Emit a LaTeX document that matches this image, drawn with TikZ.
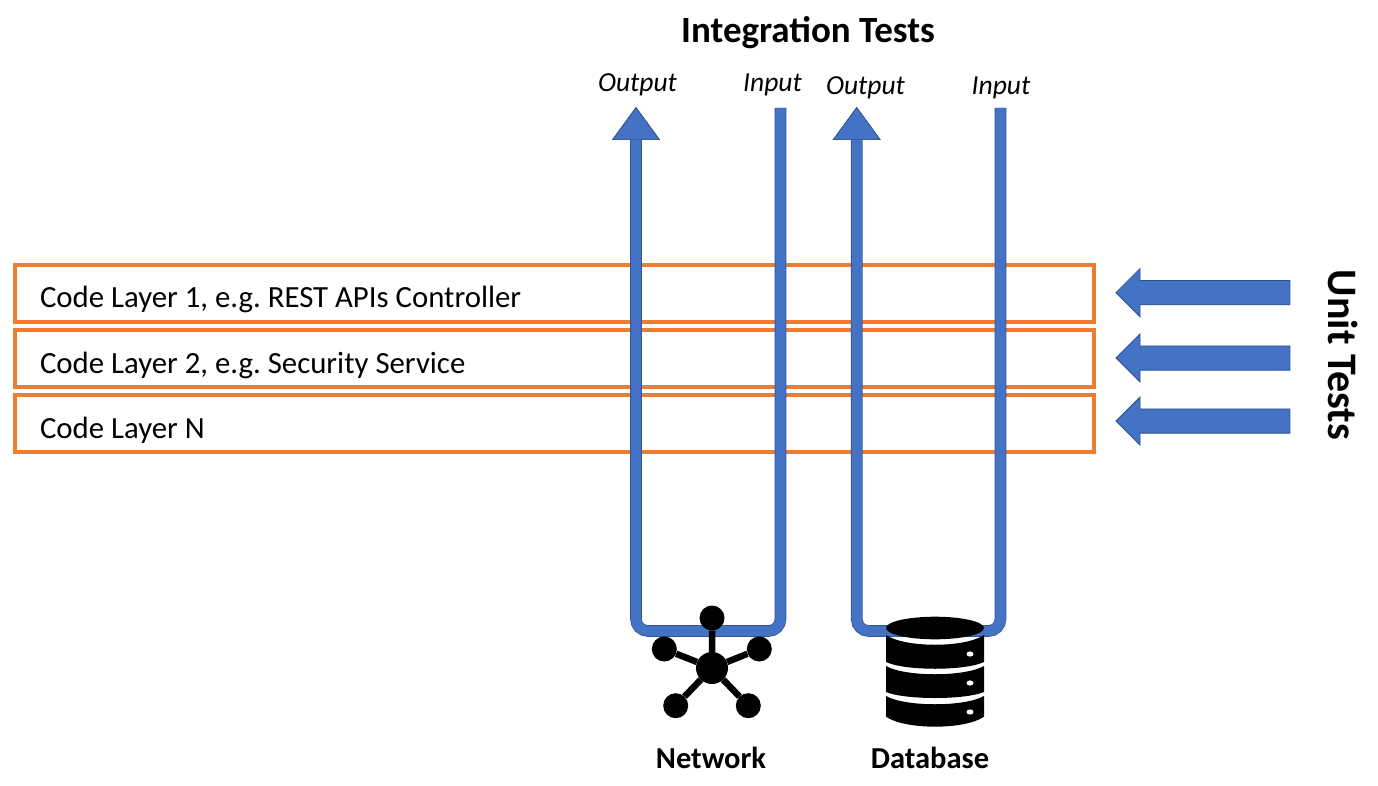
\documentclass[tikz,border=0pt]{standalone}
\usepackage{fontspec}
\setmainfont{Carlito}
\usetikzlibrary{arrows.meta,shapes.arrows}
\definecolor{test_blue}{HTML}{4472C4}
\definecolor{test_edge}{HTML}{2F528F}
\definecolor{layer_orange}{HTML}{ED7D31}
\tikzstyle{node_layer} = [rectangle, draw=layer_orange, line width=4pt, minimum width=1079pt, minimum height=57pt, inner sep=0pt, text width=1029pt, text height=29pt, text depth=0pt, align=flush left, font=\fontsize{30.8}{35}\selectfont\frenchspacing]
\tikzstyle{node_unit} = [single arrow, shape border rotate=180, fill=test_blue, draw=test_edge, line width=0.8pt, inner xsep=0pt, inner ysep=11.7pt, minimum height=174pt, minimum width=47pt, single arrow head extend=12pt, single arrow tip angle=90]
\tikzstyle{node_port} = [font=\fontsize{27.5}{32}\selectfont\itshape]
\tikzstyle{node_title} = [font=\fontsize{37}{44}\selectfont\bfseries]
\tikzstyle{node_side} = [font=\fontsize{42}{50}\selectfont\bfseries]
\tikzstyle{node_name} = [font=\fontsize{30.5}{36}\selectfont\bfseries]
\tikzstyle{node_hub} = [circle, fill=black, inner sep=0pt, minimum size=32pt]
\tikzstyle{node_leaf} = [circle, fill=black, inner sep=0pt, minimum size=25pt]
\tikzstyle{edge_test} = [draw=test_blue, line width=10.2pt, rounded corners=12pt, preaction={draw=test_edge, line width=11.6pt}, -{Triangle[width=48pt,length=33pt,fill=test_blue,color=test_edge,line width=0.7pt]}]
\tikzstyle{edge_spoke} = [line width=6.5pt]
\tikzstyle{db_band} = [fill=black]
\tikzstyle{db_dot} = [fill=white]

\begin{document}
\begin{tikzpicture}[x=1pt,y=-1pt]
	\useasboundingbox (0,0) rectangle (1378,786);
	% code layers
	\node (L1) at (554.5,293.2) [node_layer] {Code Layer 1, e.g. REST APIs Controller};
	\node (L2) at (554.5,358.5) [node_layer] {Code Layer 2, e.g. Security Service};
	\node (L3) at (554.5,423.5) [node_layer] {Code Layer N};

	\node (U1) at (1209,292.7) [node_unit] {};
	\node (U2) at (1209,358) [node_unit] {};
	\node (U3) at (1209,421) [node_unit] {};
	\node (UT) at (1343,355) [node_side, rotate=-90] {Unit Tests};

	\node (IT) at (808,33) [node_title] {Integration Tests};
	\node (O1) at (637.5,85) [node_port] {Output};
	\node (I1) at (772.5,85) [node_port] {Input};
	\node (O2) at (865.5,88) [node_port] {Output};
	\node (I2) at (1001,88) [node_port] {Input};

	% test paths
	\coordinate (I1e) at (780.5,108);
	\coordinate (O1e) at (636,107);
	\coordinate (I2e) at (1000.5,108);
	\coordinate (O2e) at (856.7,107);
	\draw[edge_test] (I1e) -- (780.5,631) -- (636,631) -- (O1e);
	\draw[edge_test] (I2e) -- (1000.5,631) -- (856.7,631) -- (O2e);

	% network
	\node (HUB) at (712,668) [node_hub] {};
	\node (N1) at (712,618) [node_leaf] {};
	\node (N2) at (664.3,649) [node_leaf] {};
	\node (N3) at (759.3,649) [node_leaf] {};
	\node (N4) at (675.7,705.7) [node_leaf] {};
	\node (N5) at (748.3,705.7) [node_leaf] {};
	\draw[edge_spoke] (HUB)--(N1) (HUB)--(N2) (HUB)--(N3) (HUB)--(N4) (HUB)--(N5);
	\node (NET) at (711,758) [node_name] {Network};

	% database
	\fill[db_band] (935,628) ellipse [x radius=49, y radius=11.3];
	\fill[db_band] (886,635) .. controls (905,648) and (965,648) .. (984,635) -- (984,662) .. controls (965,671) and (905,671) .. (886,662) -- cycle;
	\fill[db_band] (886,666) .. controls (905,677) and (965,677) .. (984,666) -- (984,692) .. controls (965,700) and (905,700) .. (886,692) -- cycle;
	\fill[db_band] (886,696) .. controls (905,707) and (965,707) .. (984,696) -- (984,716.7) .. controls (965,730) and (905,730) .. (886,716.7) -- cycle;
	\fill[db_dot] (970,654) ellipse [x radius=3.5, y radius=2.6];
	\fill[db_dot] (970,683) ellipse [x radius=3.5, y radius=2.6];
	\fill[db_dot] (970,712) ellipse [x radius=3.5, y radius=2.6];
	\node (DB) at (930,758) [node_name] {Database};
\end{tikzpicture}
\end{document}
